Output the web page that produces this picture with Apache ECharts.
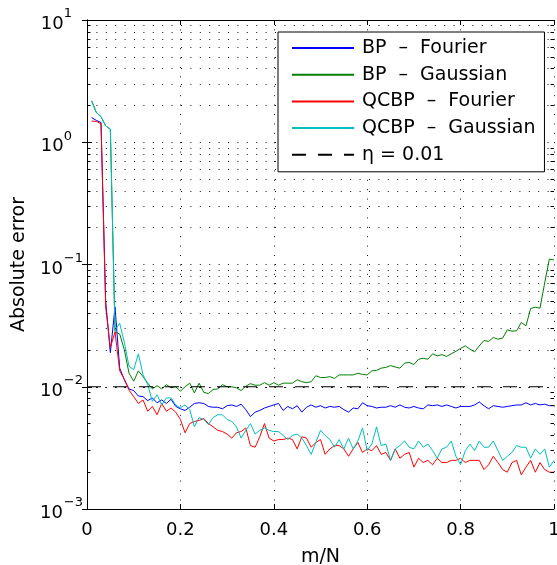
<!DOCTYPE html>
<html>
<head>
<meta charset="utf-8">
<script src="https://cdn.jsdelivr.net/npm/echarts@6/dist/echarts.min.js"></script>
<style>
html,body{margin:0;padding:0;background:#fff;}
#chart{width:557px;height:565px;}
</style>
</head>
<body>
<div id="chart"></div>
<script>
// ---------- data ----------
const mN = [0.01,0.02,0.03,0.04,0.05,0.06,0.07,0.08,0.09,0.10,
            0.11,0.12,0.13,0.14,0.15,0.16,0.17,0.18,0.19,0.20,
            0.21,0.22,0.23,0.24,0.25,0.26,0.27,0.28,0.29,0.30,
            0.31,0.32,0.33,0.34,0.35,0.36,0.37,0.38,0.39,0.40,
            0.41,0.42,0.43,0.44,0.45,0.46,0.47,0.48,0.49,0.50,
            0.51,0.52,0.53,0.54,0.55,0.56,0.57,0.58,0.59,0.60,
            0.61,0.62,0.63,0.64,0.65,0.66,0.67,0.68,0.69,0.70,
            0.71,0.72,0.73,0.74,0.75,0.76,0.77,0.78,0.79,0.80,
            0.81,0.82,0.83,0.84,0.85,0.86,0.87,0.88,0.89,0.90,
            0.91,0.92,0.93,0.94,0.95,0.96,0.97,0.98,0.99,1.00];

const bpFourier = [1.59,1.51,1.45,0.050,0.019,0.045,0.0142,0.0114,0.0096,0.0093,
 0.0084,0.0083,0.0077,0.0081,0.0074,0.0078,0.0073,0.0079,0.0069,0.0066,
 0.0064,0.0068,0.0073,0.0074,0.0073,0.0069,0.0068,0.0068,0.0066,0.0070,
 0.0071,0.0069,0.0072,0.0065,0.0057,0.0062,0.0064,0.0067,0.0069,0.0071,
 0.0073,0.0064,0.0069,0.0066,0.0070,0.0062,0.0068,0.0071,0.0068,0.0070,
 0.0067,0.0069,0.0068,0.0069,0.0065,0.0062,0.0067,0.0066,0.0074,0.0070,
 0.0069,0.0067,0.0068,0.0068,0.0070,0.0068,0.0071,0.0068,0.0067,0.0069,
 0.0067,0.0066,0.0071,0.0070,0.0071,0.0069,0.0071,0.0069,0.0067,0.0069,
 0.0069,0.0069,0.0071,0.0075,0.0070,0.0066,0.0070,0.0069,0.0068,0.0069,
 0.0070,0.0071,0.0071,0.0074,0.0071,0.0073,0.0071,0.0072,0.0070,0.0070];

const bpGaussian = [2.18,1.75,1.62,1.36,1.28,0.028,0.027,0.020,0.0129,0.0111,
 0.0135,0.0121,0.0107,0.0096,0.0102,0.0096,0.0104,0.0098,0.0100,0.0092,
 0.0100,0.0107,0.0089,0.0107,0.0090,0.0088,0.0095,0.0096,0.0104,0.0100,
 0.0100,0.0098,0.0093,0.0101,0.0106,0.0103,0.0103,0.0108,0.0103,0.0108,
 0.0103,0.0107,0.0107,0.0107,0.0114,0.0110,0.0108,0.0110,0.0123,0.0119,
 0.0119,0.0121,0.0117,0.0125,0.0125,0.0125,0.0125,0.0129,0.0126,0.0125,
 0.0135,0.0136,0.0142,0.0144,0.0149,0.0145,0.0142,0.0156,0.0158,0.0152,
 0.0168,0.0171,0.0168,0.0186,0.0179,0.0183,0.0177,0.0186,0.0195,0.0206,
 0.0216,0.0203,0.0193,0.0216,0.0239,0.0235,0.0253,0.0245,0.0250,0.0292,
 0.0285,0.0287,0.0336,0.0315,0.0437,0.0448,0.0439,0.0705,0.1107,0.109];

const qcbpFourier = [1.49,1.48,1.42,0.045,0.021,0.028,0.0135,0.0115,0.0094,0.0083,
 0.0073,0.0078,0.0063,0.0069,0.0059,0.0073,0.0063,0.0067,0.0062,0.0054,
 0.0042,0.0050,0.0052,0.0053,0.0055,0.0050,0.0047,0.0044,0.0043,0.0041,
 0.0038,0.0042,0.0043,0.0046,0.0033,0.0032,0.0039,0.0050,0.0038,0.0036,
 0.0037,0.0037,0.0038,0.0037,0.0031,0.0039,0.0038,0.0032,0.0035,0.0037,
 0.0028,0.0031,0.0033,0.0033,0.0031,0.0027,0.0031,0.0035,0.0029,0.0031,
 0.0030,0.0033,0.0028,0.0029,0.0025,0.0031,0.0026,0.0028,0.0029,0.0022,
 0.0026,0.0024,0.0025,0.0023,0.0026,0.0024,0.0024,0.0025,0.0025,0.0026,
 0.0024,0.0025,0.0025,0.0025,0.0021,0.0023,0.0027,0.0024,0.0021,0.0020,
 0.0024,0.0025,0.0019,0.0022,0.0025,0.0020,0.0024,0.0021,0.0020,0.0020];

const qcbpGaussian = [2.18,1.75,1.62,1.36,1.28,0.029,0.033,0.023,0.0147,0.0138,
 0.0186,0.0125,0.0104,0.0076,0.0086,0.0071,0.0081,0.0081,0.0071,0.0067,
 0.0071,0.0065,0.0047,0.0056,0.0054,0.0049,0.0056,0.0059,0.0059,0.0054,
 0.0052,0.0047,0.0038,0.0044,0.0050,0.0041,0.0044,0.0046,0.0044,0.0043,
 0.0043,0.0040,0.0037,0.0040,0.0041,0.0038,0.0033,0.0028,0.0035,0.0044,
 0.0040,0.0037,0.0032,0.0037,0.0031,0.0038,0.0031,0.0036,0.0046,0.0030,
 0.0034,0.0047,0.0033,0.0034,0.0025,0.0031,0.0033,0.0036,0.0032,0.0031,
 0.0036,0.0032,0.0034,0.0030,0.0026,0.0031,0.0032,0.0036,0.0027,0.0023,
 0.0030,0.0034,0.0030,0.0036,0.0032,0.0032,0.0036,0.0030,0.0025,0.0027,
 0.0029,0.0033,0.0032,0.0032,0.0026,0.0031,0.0028,0.0031,0.0022,0.0025];

const etaX = [0, 1];
const etaY = [0.01, 0.01];

const seriesNames = ['BP \u2013 Fourier', 'BP \u2013 Gaussian', 'QCBP \u2013 Fourier', 'QCBP \u2013 Gaussian', '\u03b7 = 0.01'];

// minor log grid / tick values (2..9 x each decade)
const yMinor = [0.002,0.003,0.004,0.005,0.006,0.007,0.008,0.009,
                0.02,0.03,0.04,0.05,0.06,0.07,0.08,0.09,
                0.2,0.3,0.4,0.5,0.6,0.7,0.8,0.9,
                2,3,4,5,6,7,8,9];

// ---------- chart ----------
const FONT = '"DejaVu Sans", Verdana, sans-serif';
const gridDots = {color: '#111', width: 1, type: [1, 8.4]};
const tickLen = 0.0075; // minor tick length in x-data units

function pairs(xs, ys) { return xs.map((x, i) => [x, ys[i]]); }
function supLabel(v) {
  const e = Math.round(Math.log10(v));
  if (e < 0) return '{b|10}{en|\u2212' + (-e) + '}';
  return '{b|10}{ep|' + e + '}';
}
function legendLabel(name) {
  const parts = name.split(' \u2013 ');
  if (parts.length === 2) return '{t|' + parts[0] + ' }{d|\u2013}{t| ' + parts[1] + '}';
  return '{t|' + name + '}';
}

const chart = echarts.init(document.getElementById('chart'), null, {renderer: 'canvas'});

const minorTickLines = [];
yMinor.forEach(v => {
  minorTickLines.push([{coord: [0, v]}, {coord: [tickLen, v]}]);
  minorTickLines.push([{coord: [1, v]}, {coord: [1 - tickLen, v]}]);
});

const option = {
  animation: false,
  backgroundColor: '#fff',
  textStyle: {fontFamily: FONT},
  grid: {left: 87, right: 3, top: 20, bottom: 56, show: false, containLabel: false, outerBoundsMode: 'none'},
  legend: {
    data: seriesNames,
    formatter: legendLabel,
    orient: 'vertical',
    left: 278, top: 32,
    padding: [6, 9, 7, 13],
    itemWidth: 62, itemHeight: 20, itemGap: 6.7,
    backgroundColor: '#fff',
    borderColor: '#000', borderWidth: 1, borderRadius: 0,
    selectedMode: false,
    itemStyle: {opacity: 0},
    textStyle: {
      fontSize: 19, fontFamily: FONT, color: '#000', lineHeight: 20, padding: [0, 0, 0, 3],
      rich: {
        t: {fontSize: 19, fontFamily: FONT, color: '#000', lineHeight: 20},
        d: {fontSize: 19, fontFamily: FONT, color: '#000', lineHeight: 20, padding: [0, 6, 0, 6]}
      }
    },
    z: 20
  },
  xAxis: [{
    type: 'value', min: 0, max: 1, interval: 0.2, position: 'bottom',
    axisLine: {show: true, lineStyle: {color: '#000', width: 1}},
    axisTick: {show: true, inside: true, length: 5, lineStyle: {color: '#000'}},
    axisLabel: {color: '#000', fontSize: 18, fontFamily: FONT, margin: 12},
    splitLine: {show: true, lineStyle: gridDots},
    name: 'm/N', nameLocation: 'middle', nameGap: 39,
    nameTextStyle: {color: '#000', fontSize: 19, fontFamily: FONT}
  }, {
    type: 'value', min: 0, max: 1, interval: 0.2, position: 'top',
    axisLine: {show: true, lineStyle: {color: '#000', width: 1}},
    axisTick: {show: true, inside: true, length: 5, lineStyle: {color: '#000'}},
    axisLabel: {show: false}, splitLine: {show: false}
  }],
  yAxis: [{
    type: 'log', logBase: 10, min: 0.001, max: 10, position: 'left',
    axisLine: {show: true, lineStyle: {color: '#000', width: 1}},
    axisTick: {show: true, inside: true, length: 5, lineStyle: {color: '#000'}},
    axisLabel: {
      color: '#000', margin: 4, formatter: supLabel,
      rich: {
        b: {fontSize: 18, fontFamily: FONT, color: '#000', padding: [9, 0, 0, 0]},
        ep: {fontSize: 13, fontFamily: FONT, color: '#000', padding: [0, 11, 12, 0]},
        en: {fontSize: 13, fontFamily: FONT, color: '#000', padding: [0, 0, 12, 1]}
      }
    },
    splitLine: {show: true, lineStyle: gridDots},
    name: 'Absolute error', nameLocation: 'middle', nameGap: 56, nameRotate: 90,
    nameTextStyle: {color: '#000', fontSize: 19, fontFamily: FONT}
  }, {
    type: 'log', logBase: 10, min: 0.001, max: 10, position: 'right',
    axisLine: {show: true, lineStyle: {color: '#000', width: 1}},
    axisTick: {show: true, inside: true, length: 5, lineStyle: {color: '#000'}},
    axisLabel: {show: false}, splitLine: {show: false}
  }],
  series: [
    {
      name: '_grid', type: 'line', data: pairs(etaX, etaY), symbol: 'none', silent: true, z: 1,
      lineStyle: {opacity: 0},
      markLine: {
        silent: true, symbol: 'none', animation: false, label: {show: false},
        lineStyle: gridDots, emphasis: {disabled: true},
        data: yMinor.map(v => ({yAxis: v}))
      }
    },
    {
      name: '_ticks', type: 'line', data: pairs(etaX, etaY), symbol: 'none', silent: true, z: 6,
      lineStyle: {opacity: 0},
      markLine: {
        silent: true, symbol: 'none', animation: false, label: {show: false},
        lineStyle: {color: '#000', width: 1, type: 'solid'}, emphasis: {disabled: true},
        data: minorTickLines
      }
    },
    {name: seriesNames[0], type: 'line', data: pairs(mN, bpFourier), symbol: 'none', showSymbol: false,
     color: '#0000ff', lineStyle: {color: '#0000ff', width: 1}, z: 3, silent: true},
    {name: seriesNames[1], type: 'line', data: pairs(mN, bpGaussian), symbol: 'none', showSymbol: false,
     color: '#008000', lineStyle: {color: '#008000', width: 1}, z: 3, silent: true},
    {name: seriesNames[2], type: 'line', data: pairs(mN, qcbpFourier), symbol: 'none', showSymbol: false,
     color: '#ff0000', lineStyle: {color: '#ff0000', width: 1}, z: 3, silent: true},
    {name: seriesNames[3], type: 'line', data: pairs(mN, qcbpGaussian), symbol: 'none', showSymbol: false,
     color: '#00bfbf', lineStyle: {color: '#00bfbf', width: 1}, z: 3, silent: true},
    {name: seriesNames[4], type: 'line', data: pairs(etaX, etaY), symbol: 'none', showSymbol: false,
     color: '#000', lineStyle: {color: '#000', width: 1, type: [14, 12]}, z: 4, silent: true}
  ]
};
chart.setOption(option);
</script>
</body>
</html>
